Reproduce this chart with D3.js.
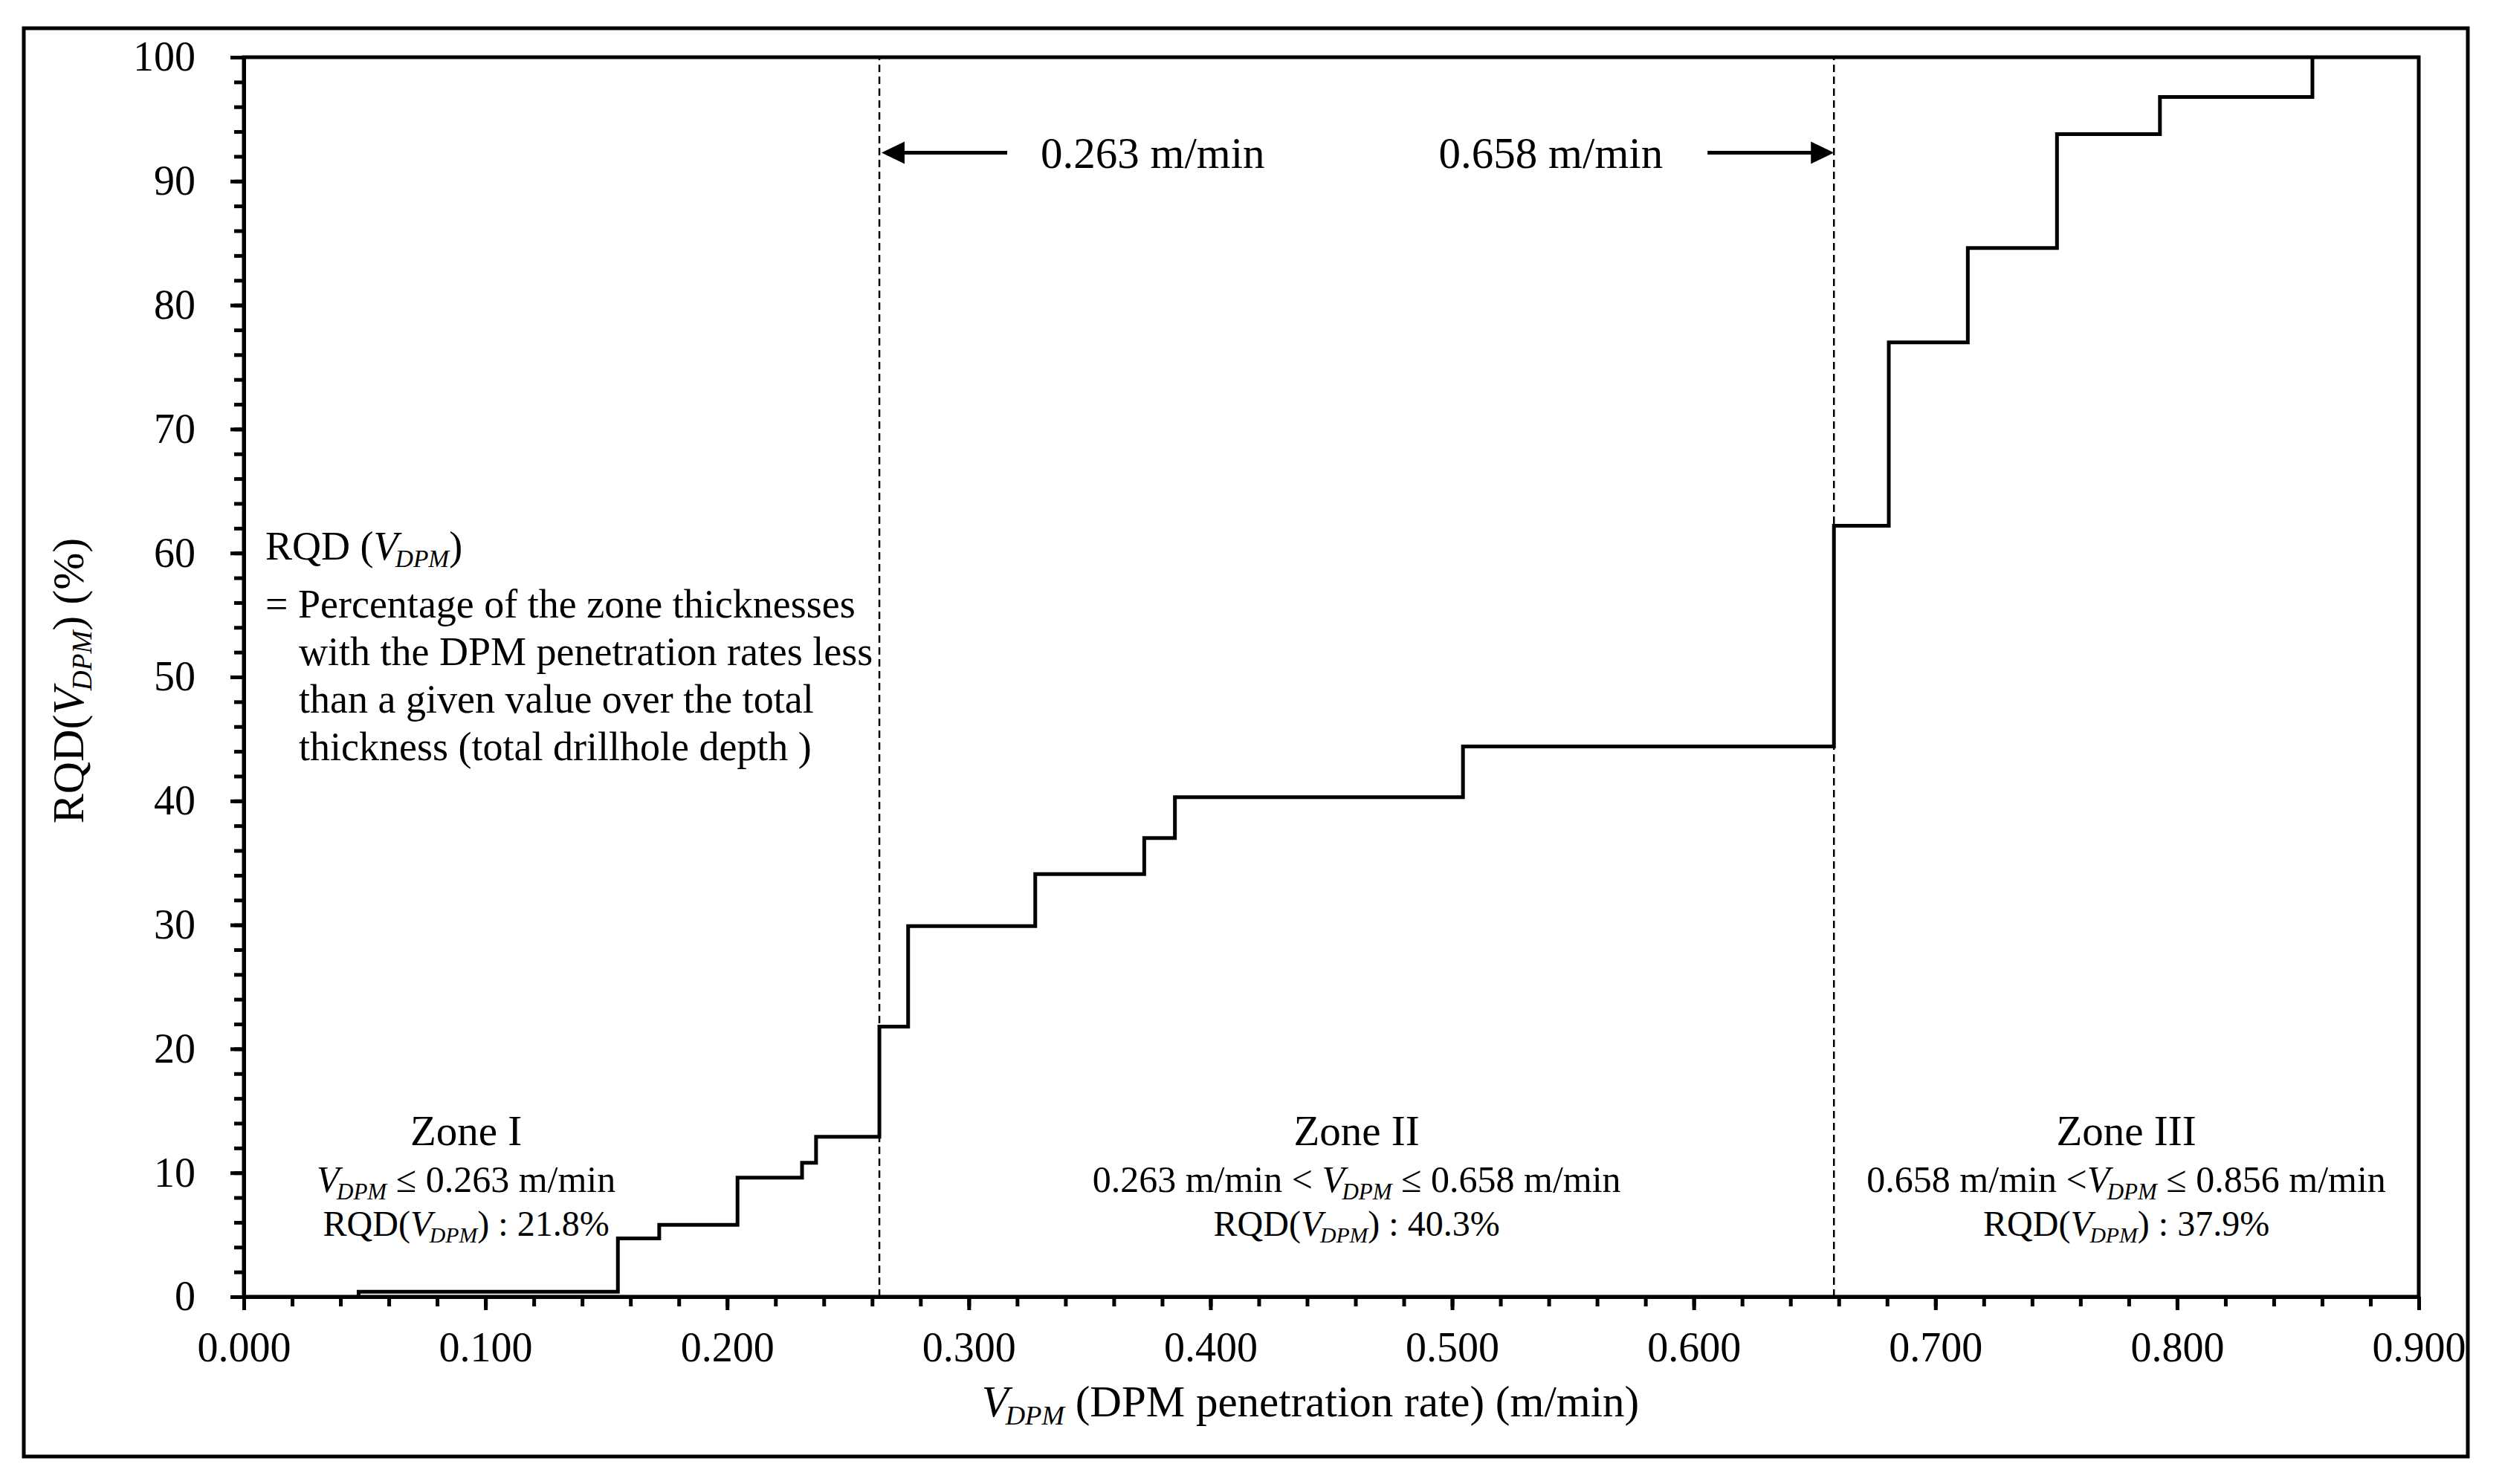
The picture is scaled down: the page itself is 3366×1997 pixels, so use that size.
<!DOCTYPE html>
<html>
<head>
<meta charset="utf-8">
<script src="https://cdn.jsdelivr.net/npm/d3@7"></script>
<style>
  body { margin: 0; background: #fff; }
  svg text { font-family: "Liberation Serif", "Times New Roman", serif; fill: #000; white-space: pre; }
</style>
</head>
<body>
<svg id="chart"></svg>
<script>
// step curve: DPM penetration rate (m/min) and cumulative RQD (%)
var rates = [0.0475, 0.0475, 0.1548, 0.1719, 0.2043, 0.2310, 0.2368, 0.2630, 0.2749, 0.3275, 0.3726, 0.3853, 0.5045, 0.6580, 0.6807, 0.7134, 0.7503, 0.7929, 0.8560];
var rqd   = [0,      0.4,    4.7,    5.8,    9.6,    10.8,   12.9,   21.8,   29.9,   34.1,   37.0,   40.3,   44.4,   62.2,   77.0,   84.6,   93.8,   96.8,   100];

var zoneBounds = [0.263, 0.658];
var zoneNames  = ["Zone I", "Zone II", "Zone III"];
var zoneRanges = ["{V} ≤ 0.263 m/min", "0.263 m/min < {V} ≤ 0.658 m/min", "0.658 m/min <{V} ≤ 0.856 m/min"];
var zoneRqd    = ["RQD({V}) : 21.8%", "RQD({V}) : 40.3%", "RQD({V}) : 37.9%"];
var boundLabels = ["0.263 m/min", "0.658 m/min"];

var xTicks = [0, 0.1, 0.2, 0.3, 0.4, 0.5, 0.6, 0.7, 0.8, 0.9];
var yTicks = [0, 10, 20, 30, 40, 50, 60, 70, 80, 90, 100];

var defTitle = "RQD ({V})";
var defLines = ["= Percentage of the zone thicknesses",
                "with the DPM penetration rates less",
                "than a given value over the total",
                "thickness (total drillhole depth )"];

var W = 3366, H = 1997;
var margin = {top: 77, right: 112, bottom: 252, left: 328};
var width = W - margin.left - margin.right,
    height = H - margin.top - margin.bottom;

var root = d3.select("#chart").attr("width", W).attr("height", H);

// outer frame
root.append("rect")
    .attr("x", 32).attr("y", 38)
    .attr("width", 3288).attr("height", 1922)
    .attr("fill", "none").attr("stroke", "#000").attr("stroke-width", 5);

var svg = root.append("g")
    .attr("transform", "translate(" + margin.left + "," + margin.top + ")");

var x = d3.scaleLinear().domain([0, 0.9]).range([0, width]);
var y = d3.scaleLinear().domain([0, 100]).range([height, 0]);

// writes a string, turning {V} into italic V with DPM subscript
function richText(sel, str, size) {
  var parts = str.split("{V}");
  var sub = size * 0.19;
  parts.forEach(function (p, i) {
    if (i > 0) {
      sel.append("tspan").style("font-style", "italic").text("V");
      sel.append("tspan").style("font-style", "italic")
          .attr("font-size", size * 0.62)
          .attr("dx", -size * 0.07)
          .attr("dy", sub)
          .text("DPM");
    }
    if (p) {
      var t = sel.append("tspan").text(p);
      if (i > 0) t.attr("dy", -sub);
    }
  });
}

// plot box
svg.append("rect")
    .attr("width", width).attr("height", height)
    .attr("fill", "none").attr("stroke", "#000").attr("stroke-width", 5);

// zone boundaries
svg.selectAll(".bound")
    .data(zoneBounds)
    .enter().append("line")
    .attr("class", "bound")
    .attr("x1", function (d) { return x(d); })
    .attr("x2", function (d) { return x(d); })
    .attr("y1", y(0)).attr("y2", y(100))
    .attr("stroke", "#000").attr("stroke-width", 2.5)
    .attr("stroke-dasharray", "10,6");

// step curve
var pts = rates.map(function (r, i) { return [r, rqd[i]]; });
var line = d3.line()
    .x(function (d) { return x(d[0]); })
    .y(function (d) { return y(d[1]); })
    .curve(d3.curveStepAfter);

svg.append("path")
    .datum(pts)
    .attr("d", line)
    .attr("fill", "none")
    .attr("stroke", "#000")
    .attr("stroke-width", 5)
    .attr("stroke-linejoin", "miter");

// minor ticks
svg.append("g")
    .attr("transform", "translate(0," + height + ")")
    .call(d3.axisBottom(x).tickValues(d3.range(0, 46).map(function (i) { return i * 0.02; }))
        .tickSize(13).tickSizeOuter(0).tickFormat(""));
svg.append("g")
    .call(d3.axisLeft(y).tickValues(d3.range(0, 51).map(function (i) { return i * 2; }))
        .tickSize(13).tickSizeOuter(0).tickFormat(""));

// major ticks + labels
var xAxis = svg.append("g")
    .attr("transform", "translate(0," + height + ")")
    .call(d3.axisBottom(x).tickValues(xTicks).tickSize(18).tickSizeOuter(0).tickFormat(d3.format(".3f")));
xAxis.selectAll("text").attr("dy", null).attr("y", 87).attr("font-size", 56);

var yAxis = svg.append("g")
    .call(d3.axisLeft(y).tickValues(yTicks).tickSize(18).tickSizeOuter(0).tickPadding(47));
yAxis.selectAll("text").attr("font-size", 56);

svg.selectAll(".domain, .tick line").attr("stroke", "#000").attr("stroke-width", 5);
svg.selectAll(".tick text").attr("fill", "#000").style("font-family", "'Liberation Serif', serif");

// axis titles
var xt = root.append("text")
    .attr("x", 1763).attr("y", 1906)
    .attr("text-anchor", "middle")
    .attr("font-size", 59);
richText(xt, "{V} (DPM penetration rate) (m/min)", 59);

var yt = root.append("text")
    .attr("transform", "translate(112,916) rotate(-90)")
    .attr("text-anchor", "middle")
    .attr("font-size", 60);
richText(yt, "RQD({V}) (%)", 60);

// boundary arrows near the top
var arrowY = y(92.3);
var arrows = [
  {tail: 0.3159, tip: 0.2639},
  {tail: 0.6057, tip: 0.6580}
];
arrows.forEach(function (a) {
  var dir = a.tip > a.tail ? 1 : -1;
  svg.append("line")
      .attr("x1", x(a.tail)).attr("x2", x(a.tip) - dir * 25)
      .attr("y1", arrowY).attr("y2", arrowY)
      .attr("stroke", "#000").attr("stroke-width", 5);
  svg.append("path")
      .attr("d", "M" + x(a.tip) + "," + arrowY +
                 "L" + (x(a.tip) - dir * 31) + "," + (arrowY - 15) +
                 "L" + (x(a.tip) - dir * 31) + "," + (arrowY + 15) + "Z")
      .attr("fill", "#000");
});
svg.append("text")
    .attr("x", x(0.3159) + 45).attr("y", arrowY).attr("dy", "0.35em")
    .attr("font-size", 59)
    .text(boundLabels[0]);
svg.append("text")
    .attr("x", x(0.6057) - 60).attr("y", arrowY).attr("dy", "0.35em")
    .attr("text-anchor", "end")
    .attr("font-size", 59)
    .text(boundLabels[1]);

// zone captions
var zoneLabelX = [0.092, 0.4605, 0.779];
zoneNames.forEach(function (name, i) {
  svg.append("text")
      .attr("x", x(zoneLabelX[i])).attr("y", y(0) - 204)
      .attr("text-anchor", "middle").attr("font-size", 57)
      .text(name);
  var r = svg.append("text")
      .attr("x", x(zoneLabelX[i])).attr("y", y(0) - 141)
      .attr("text-anchor", "middle").attr("font-size", 50);
  richText(r, zoneRanges[i], 50);
  var q = svg.append("text")
      .attr("x", x(zoneLabelX[i])).attr("y", y(0) - 82)
      .attr("text-anchor", "middle").attr("font-size", 48);
  richText(q, zoneRqd[i], 48);
});

// definition note
var dt = svg.append("text")
    .attr("x", 29).attr("y", 676)
    .attr("font-size", 54);
richText(dt, defTitle, 54);
defLines.forEach(function (s, i) {
  svg.append("text")
      .attr("x", i === 0 ? 29 : 74)
      .attr("y", 754 + i * 64)
      .attr("font-size", 54)
      .text(s);
});
</script>
</body>
</html>
